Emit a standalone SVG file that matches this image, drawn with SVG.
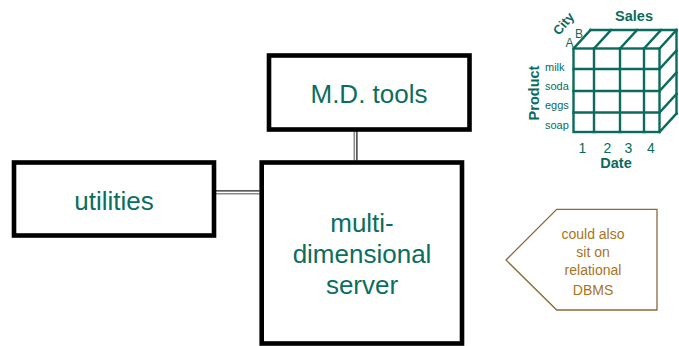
<svg xmlns="http://www.w3.org/2000/svg" width="679" height="346" viewBox="0 0 679 346">
  <style>
    .box { fill: #ffffff; stroke: #000000; stroke-width: 4.6; }
    .label { font-family: "Liberation Sans", Arial, sans-serif; fill: #0b6e5e; text-anchor: middle; font-size: 26px; }
    .link-a { stroke: #222222; stroke-width: 1.3; fill: none; }
    .link-b { stroke: #8a8a8a; stroke-width: 1.6; fill: none; }
    .cube { stroke: #0b6b5c; stroke-width: 2.4; fill: none; stroke-linecap: square; }
    .cube-txt { font-family: "Liberation Sans", Arial, sans-serif; fill: #0b6b5c; }
    .bold { font-weight: bold; }
    .note { fill: #ffffff; stroke: #8a6a3a; stroke-width: 1.3; }
    .note-txt { font-family: "Liberation Sans", Arial, sans-serif; fill: #a8741a; font-size: 14px; text-anchor: middle; }
  </style>

  <!-- connectors: double lines between the boxes -->
  <g id="connectors">
    <line class="link-b" x1="354.3" y1="131" x2="354.3" y2="160.5"/>
    <line class="link-a" x1="356.9" y1="131" x2="356.9" y2="160.5"/>
    <line class="link-a" x1="216" y1="190.8" x2="259.5" y2="190.8"/>
    <line class="link-b" x1="216" y1="193.8" x2="259.5" y2="193.8"/>
  </g>

  <g id="md-tools">
    <rect class="box" x="269" y="55.5" width="200.5" height="74"/>
    <text class="label" x="369" y="102.5">M.D. tools</text>
  </g>

  <g id="utilities">
    <rect class="box" x="14" y="162.5" width="200" height="73"/>
    <text class="label" x="114" y="210">utilities</text>
  </g>

  <g id="md-server">
    <rect class="box" x="261.7" y="162.5" width="200.3" height="181"/>
    <text class="label" x="362" y="231.5">multi-</text>
    <text class="label" x="362" y="263">dimensional</text>
    <text class="label" x="362" y="294">server</text>
  </g>

  <!-- sales cube: product x date x city -->
  <g id="sales-cube">
    <!-- front face -->
    <rect class="cube" x="573.5" y="48.5" width="86" height="83.5"/>
    <line class="cube" x1="594" y1="48.5" x2="594" y2="132"/>
    <line class="cube" x1="620" y1="48.5" x2="620" y2="132"/>
    <line class="cube" x1="644" y1="48.5" x2="644" y2="132"/>
    <line class="cube" x1="573.5" y1="69" x2="659.5" y2="69"/>
    <line class="cube" x1="573.5" y1="91" x2="659.5" y2="91"/>
    <line class="cube" x1="573.5" y1="112.5" x2="659.5" y2="112.5"/>
    <!-- top face -->
    <line class="cube" x1="590.5" y1="30" x2="676.5" y2="30"/>
    <line class="cube" x1="573.5" y1="48.5" x2="590.5" y2="30"/>
    <line class="cube" x1="594" y1="48.5" x2="611" y2="30"/>
    <line class="cube" x1="620" y1="48.5" x2="637" y2="30"/>
    <line class="cube" x1="644" y1="48.5" x2="661" y2="30"/>
    <line class="cube" x1="659.5" y1="48.5" x2="676.5" y2="30"/>
    <!-- right face -->
    <line class="cube" x1="676.5" y1="30" x2="676.5" y2="113.5"/>
    <line class="cube" x1="659.5" y1="69" x2="676.5" y2="50.5"/>
    <line class="cube" x1="659.5" y1="91" x2="676.5" y2="72.5"/>
    <line class="cube" x1="659.5" y1="112.5" x2="676.5" y2="94"/>
    <line class="cube" x1="659.5" y1="132" x2="676.5" y2="113.5"/>

    <text class="cube-txt bold" x="634" y="20.5" font-size="14.5" text-anchor="middle">Sales</text>
    <text class="cube-txt bold" font-size="13" transform="translate(559 36) rotate(-50)">City</text>
    <text class="cube-txt" x="575" y="37.5" font-size="12">B</text>
    <text class="cube-txt" x="565.5" y="46.5" font-size="12">A</text>
    <text class="cube-txt bold" font-size="14.5" text-anchor="middle" transform="translate(538.5 93) rotate(-90)">Product</text>
    <text class="cube-txt" x="545" y="70.5" font-size="11">milk</text>
    <text class="cube-txt" x="545" y="90" font-size="11">soda</text>
    <text class="cube-txt" x="545" y="109" font-size="11">eggs</text>
    <text class="cube-txt" x="545" y="129" font-size="11">soap</text>
    <text class="cube-txt" x="582.3" y="153" font-size="14" text-anchor="middle">1</text>
    <text class="cube-txt" x="607.3" y="153" font-size="14" text-anchor="middle">2</text>
    <text class="cube-txt" x="628.5" y="153" font-size="14" text-anchor="middle">3</text>
    <text class="cube-txt" x="651" y="153" font-size="14" text-anchor="middle">4</text>
    <text class="cube-txt bold" x="616" y="168.3" font-size="14.5" text-anchor="middle">Date</text>
  </g>

  <g id="relational-note">
    <polygon class="note" points="506,260 556.7,209.3 657,209.3 657,310 556.7,310"/>
    <text class="note-txt" x="593" y="239">could also</text>
    <text class="note-txt" x="593" y="257">sit on</text>
    <text class="note-txt" x="593" y="275">relational</text>
    <text class="note-txt" x="593" y="294.5">DBMS</text>
  </g>
</svg>
